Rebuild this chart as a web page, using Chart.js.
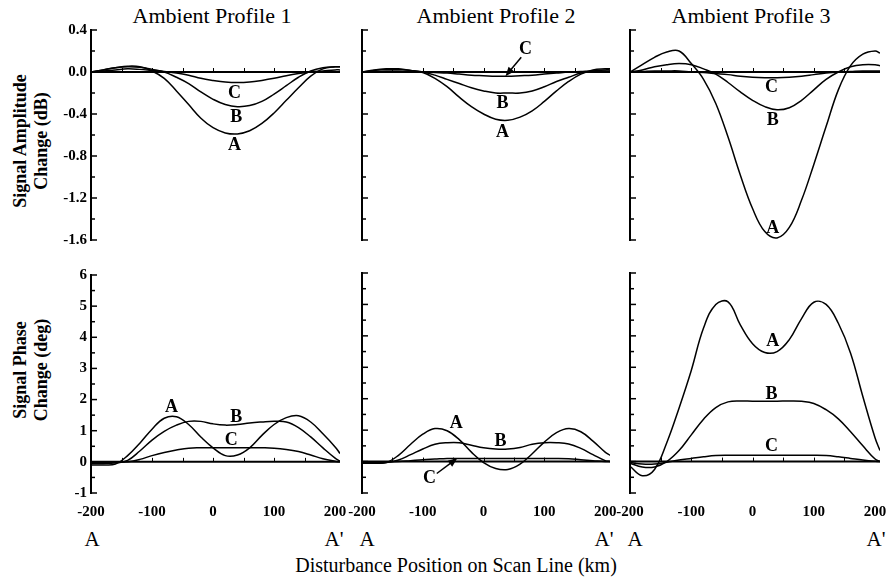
<!DOCTYPE html>
<html>
<head>
<meta charset="utf-8">
<script src="https://cdn.jsdelivr.net/npm/chart.js@4.4.1/dist/chart.umd.min.js"></script>
<style>
    html, body { margin: 0; padding: 0; background: #fff; overflow: hidden; }
    #figure {
        position: relative; width: 890px; height: 580px; overflow: hidden; background: #fff;
        font-family: "Liberation Serif", "Times New Roman", serif; color: #000;
    }
    #figure canvas { position: absolute; }
    .txt { position: absolute; white-space: nowrap; line-height: 1; transform: translate(-50%, -50%); }
    .panel-title { font-size: 22px; }
    .y-title {
        font-size: 18px; font-weight: bold; line-height: 21px; text-align: center;
        transform: translate(-50%, -50%) rotate(-90deg);
    }
    .end-label { font-size: 21px; }
    .x-title { font-size: 20px; }
</style>
</head>
<body>
<div id="figure">
    <div class="txt panel-title" style="left:212px; top:16px">Ambient Profile 1</div>
    <div class="txt panel-title" style="left:496px; top:16px">Ambient Profile 2</div>
    <div class="txt panel-title" style="left:751px; top:16px">Ambient Profile 3</div>

    <div class="txt y-title" style="left:31px; top:141px">Signal Amplitude<br>Change (dB)</div>
    <div class="txt y-title" style="left:31px; top:370px">Signal Phase<br>Change (deg)</div>

    <div class="txt end-label" style="left:92px; top:539px">A</div>
    <div class="txt end-label" style="left:334px; top:539px">A'</div>
    <div class="txt end-label" style="left:367px; top:539px">A</div>
    <div class="txt end-label" style="left:604px; top:539px">A'</div>
    <div class="txt end-label" style="left:635px; top:539px">A</div>
    <div class="txt end-label" style="left:876px; top:539px">A'</div>

    <div class="txt x-title" style="left:456px; top:565px">Disturbance Position on Scan Line (km)</div>
</div>

<script>
// disturbance position along the scan line (km), shared by every curve
const X_KM = [-200, -180, -160, -140, -120, -100, -80, -60, -40, -20, 0, 20, 40, 60, 80, 100, 120, 140, 160, 180, 200, 208];

// signal amplitude change (dB)
const AMP_1_A = [0, 0.02, 0.04, 0.055, 0.05, 0.01, -0.06, -0.18, -0.31, -0.44, -0.53, -0.58, -0.59, -0.56, -0.49, -0.39, -0.27, -0.15, -0.04, 0.03, 0.05, 0.05];
const AMP_1_B = [0, 0.02, 0.04, 0.05, 0.045, 0.025, 0, -0.05, -0.11, -0.19, -0.26, -0.31, -0.33, -0.32, -0.28, -0.21, -0.13, -0.05, 0.01, 0.04, 0.05, 0.05];
const AMP_1_C = [0, 0.01, 0.02, 0.03, 0.025, 0.015, 0.005, -0.01, -0.03, -0.06, -0.08, -0.095, -0.1, -0.095, -0.08, -0.06, -0.035, -0.015, 0, 0.01, 0.02, 0.02];

const AMP_2_A = [0, 0.02, 0.03, 0.03, 0.015, -0.005, -0.06, -0.14, -0.24, -0.33, -0.4, -0.45, -0.46, -0.43, -0.37, -0.28, -0.18, -0.09, -0.02, 0.02, 0.03, 0.03];
const AMP_2_B = [0, 0.015, 0.025, 0.025, 0.015, 0, -0.03, -0.07, -0.11, -0.15, -0.18, -0.2, -0.2, -0.2, -0.18, -0.14, -0.09, -0.05, -0.01, 0.01, 0.02, 0.02];
const AMP_2_C = [0, 0.005, 0.01, 0.01, 0.005, 0, -0.005, -0.01, -0.02, -0.03, -0.035, -0.04, -0.04, -0.035, -0.03, -0.02, -0.01, 0, 0.005, 0.01, 0.01, 0.01];

const AMP_3_A = [0, 0.07, 0.14, 0.19, 0.2, 0.08, -0.07, -0.3, -0.62, -0.98, -1.3, -1.52, -1.58, -1.48, -1.22, -0.88, -0.52, -0.17, 0.06, 0.17, 0.2, 0.18];
const AMP_3_B = [0, 0.02, 0.05, 0.07, 0.08, 0.07, 0.03, -0.02, -0.1, -0.19, -0.27, -0.33, -0.36, -0.34, -0.27, -0.17, -0.07, 0, 0.05, 0.07, 0.07, 0.06];
const AMP_3_C = [0, 0.005, 0.01, 0.01, 0.01, 0, -0.005, -0.015, -0.025, -0.04, -0.05, -0.055, -0.055, -0.05, -0.04, -0.025, -0.01, 0, 0.005, 0.01, 0.01, 0.01];

// signal phase change (deg)
const PHASE_1_A = [-0.1, -0.1, -0.07, 0.2, 0.6, 1.05, 1.4, 1.45, 1.2, 0.8, 0.45, 0.2, 0.22, 0.45, 0.85, 1.2, 1.42, 1.48, 1.28, 0.9, 0.48, 0.27];
const PHASE_1_B = [-0.05, -0.05, -0.03, 0.05, 0.35, 0.7, 0.98, 1.18, 1.3, 1.3, 1.22, 1.18, 1.2, 1.25, 1.28, 1.3, 1.28, 1.1, 0.8, 0.45, 0.12, 0.02];
const PHASE_1_C = [-0.03, -0.03, -0.02, 0, 0.08, 0.2, 0.3, 0.38, 0.44, 0.45, 0.45, 0.45, 0.45, 0.45, 0.45, 0.44, 0.4, 0.33, 0.22, 0.1, 0.02, 0];

const PHASE_2_A = [-0.05, -0.05, -0.03, 0.2, 0.55, 0.87, 1.05, 0.98, 0.7, 0.3, -0.03, -0.22, -0.25, -0.08, 0.25, 0.62, 0.92, 1.05, 0.95, 0.65, 0.3, 0.2];
const PHASE_2_B = [-0.05, -0.05, -0.03, 0.05, 0.22, 0.4, 0.55, 0.6, 0.6, 0.52, 0.44, 0.4, 0.4, 0.45, 0.55, 0.6, 0.6, 0.56, 0.42, 0.22, 0.03, 0];
const PHASE_2_C = [-0.03, -0.03, -0.02, 0, 0.03, 0.06, 0.08, 0.1, 0.1, 0.1, 0.1, 0.1, 0.1, 0.1, 0.1, 0.1, 0.1, 0.09, 0.06, 0.03, 0, 0];

const PHASE_3_A = [-0.15, -0.45, -0.25, 0.6, 1.7, 2.9, 4.25, 5.0, 5.08, 4.35, 3.75, 3.47, 3.5, 3.88, 4.55, 5.07, 5.0, 4.4, 3.45, 2.07, 0.75, 0.35];
const PHASE_3_B = [-0.05, -0.17, -0.17, 0, 0.35, 0.85, 1.35, 1.72, 1.9, 1.93, 1.92, 1.92, 1.92, 1.93, 1.92, 1.85, 1.65, 1.36, 0.95, 0.5, 0.08, 0];
const PHASE_3_C = [-0.03, -0.08, -0.08, -0.02, 0.05, 0.1, 0.15, 0.19, 0.2, 0.2, 0.2, 0.2, 0.2, 0.2, 0.2, 0.2, 0.19, 0.15, 0.1, 0.05, 0.01, 0];

// curve letters, in data units (arrow: tail -> tip)
const AMP_1_LABELS = [{ text: 'C', x: 35, y: -0.205 }, { text: 'B', x: 38, y: -0.43 }, { text: 'A', x: 35, y: -0.7 }];
const AMP_2_LABELS = [
    { text: 'C', x: 69, y: 0.22, arrow: [62, 0.14, 36, -0.04] },
    { text: 'B', x: 31, y: -0.3 },
    { text: 'A', x: 31, y: -0.57 }
];
const AMP_3_LABELS = [{ text: 'C', x: 31, y: -0.145 }, { text: 'B', x: 33, y: -0.46 }, { text: 'A', x: 33, y: -1.49 }];
const PHASE_1_LABELS = [{ text: 'A', x: -68, y: 1.76 }, { text: 'B', x: 38, y: 1.44 }, { text: 'C', x: 30, y: 0.7 }];
const PHASE_2_LABELS = [
    { text: 'A', x: -45, y: 1.23 },
    { text: 'B', x: 28, y: 0.64 },
    { text: 'C', x: -89, y: -0.52, arrow: [-77, -0.38, -43, 0.11] }
];
const PHASE_3_LABELS = [{ text: 'A', x: 33, y: 3.82 }, { text: 'B', x: 31, y: 2.13 }, { text: 'C', x: 31, y: 0.48 }];

const X_TICK_LABELS = [-200, -100, 0, 100, 200];
const ZERO_LINE_TICKS = [-150, -100, -50, 0, 50, 100, 150];

// layout
const COLUMN_LEFT = [91, 362, 630];
const COLUMN_RIGHT = [340, 610, 880];
const AXIS_GUTTER = 91;
const RIGHT_GUTTER = 30;
const ROWS = {
    amplitude: { top: 0, padTop: 30, plotHeight: 221, bottomSpace: 11, min: -1.6, max: 0.4, step: 0.2, labelEvery: 0.4, digits: 1 },
    phase: { top: 262, padTop: 11, plotHeight: 220, bottomSpace: 40, min: -1, max: 6, step: 0.5, labelEvery: 1, digits: 0 }
};

const PANELS = [
    { row: 'amplitude', col: 0, series: [AMP_1_A, AMP_1_B, AMP_1_C], labels: AMP_1_LABELS },
    { row: 'amplitude', col: 1, series: [AMP_2_A, AMP_2_B, AMP_2_C], labels: AMP_2_LABELS },
    { row: 'amplitude', col: 2, series: [AMP_3_A, AMP_3_B, AMP_3_C], labels: AMP_3_LABELS },
    { row: 'phase', col: 0, series: [PHASE_1_A, PHASE_1_B, PHASE_1_C], labels: PHASE_1_LABELS },
    { row: 'phase', col: 1, series: [PHASE_2_A, PHASE_2_B, PHASE_2_C], labels: PHASE_2_LABELS },
    { row: 'phase', col: 2, series: [PHASE_3_A, PHASE_3_B, PHASE_3_C], labels: PHASE_3_LABELS }
];

const SERIF = '"Liberation Serif", "Times New Roman", serif';
Chart.defaults.font.family = SERIF;
Chart.defaults.color = '#000';

function isMultiple(value, step) {
    const q = value / step;
    return Math.abs(q - Math.round(q)) < 1e-6;
}

function formatTick(value, digits) {
    if (Math.abs(value) < 1e-9) return (0).toFixed(digits);
    return value.toFixed(digits);
}

function drawArrow(ctx, x1, y1, x2, y2) {
    const angle = Math.atan2(y2 - y1, x2 - x1);
    const head = 10;
    ctx.lineWidth = 1.5;
    ctx.beginPath();
    ctx.moveTo(x1, y1);
    ctx.lineTo(x2 - Math.cos(angle) * head * 0.8, y2 - Math.sin(angle) * head * 0.8);
    ctx.stroke();
    ctx.beginPath();
    ctx.moveTo(x2, y2);
    ctx.lineTo(x2 - head * Math.cos(angle - 0.38), y2 - head * Math.sin(angle - 0.38));
    ctx.lineTo(x2 - head * Math.cos(angle + 0.38), y2 - head * Math.sin(angle + 0.38));
    ctx.closePath();
    ctx.fill();
}

// zero line, bracket-style left axis with inward ticks, curve letters
function makeFrame(panel, rowCfg) {
    return {
        id: 'panelFrame',
        afterDatasetsDraw(chart) {
            const { ctx, chartArea: area, scales: { x, y } } = chart;
            ctx.save();
            ctx.strokeStyle = '#000';
            ctx.fillStyle = '#000';

            const y0 = y.getPixelForValue(0);
            ctx.lineWidth = 2;
            ctx.beginPath();
            ctx.moveTo(area.left, y0);
            ctx.lineTo(area.right, y0);
            ctx.stroke();

            ctx.lineWidth = 1;
            ZERO_LINE_TICKS.forEach((km) => {
                const px = Math.round(x.getPixelForValue(km)) + 0.5;
                ctx.beginPath();
                ctx.moveTo(px, y0);
                ctx.lineTo(px, y0 - 4);
                ctx.stroke();
            });

            ctx.lineWidth = 2;
            ctx.beginPath();
            ctx.moveTo(area.left, area.top - 1);
            ctx.lineTo(area.left, area.bottom + 1);
            ctx.stroke();

            ctx.lineWidth = 1.5;
            y.ticks.forEach((tick) => {
                const py = y.getPixelForValue(tick.value);
                const len = isMultiple(tick.value, rowCfg.labelEvery) ? 6 : 4;
                ctx.beginPath();
                ctx.moveTo(area.left, py);
                ctx.lineTo(area.left + len, py);
                ctx.stroke();
            });

            ctx.font = `bold 18px ${SERIF}`;
            ctx.textAlign = 'center';
            ctx.textBaseline = 'middle';
            panel.labels.forEach((label) => {
                if (label.arrow) {
                    const [ax, ay, bx, by] = label.arrow;
                    drawArrow(ctx, x.getPixelForValue(ax), y.getPixelForValue(ay),
                        x.getPixelForValue(bx), y.getPixelForValue(by));
                }
                ctx.fillText(label.text, x.getPixelForValue(label.x), y.getPixelForValue(label.y));
            });
            ctx.restore();
        }
    };
}

function renderPanel(panel) {
    const rowCfg = ROWS[panel.row];
    const plotWidth = COLUMN_RIGHT[panel.col] - COLUMN_LEFT[panel.col];
    const canvas = document.createElement('canvas');
    canvas.width = AXIS_GUTTER + plotWidth + RIGHT_GUTTER;
    canvas.height = rowCfg.padTop + rowCfg.plotHeight + rowCfg.bottomSpace;
    canvas.style.left = `${COLUMN_LEFT[panel.col] - AXIS_GUTTER}px`;
    canvas.style.top = `${rowCfg.top}px`;
    document.getElementById('figure').appendChild(canvas);

    const showXLabels = panel.row === 'phase';

    return new Chart(canvas, {
        type: 'line',
        data: {
            datasets: panel.series.map((values, i) => ({
                label: 'ABC'[i],
                data: X_KM.map((km, j) => ({ x: km, y: values[j] })),
                borderColor: '#000',
                borderWidth: 1.5,
                pointRadius: 0,
                fill: false,
                tension: 0.4
            }))
        },
        options: {
            responsive: false,
            animation: false,
            events: [],
            layout: {
                padding: { top: rowCfg.padTop, right: RIGHT_GUTTER, bottom: showXLabels ? 0 : rowCfg.bottomSpace, left: 0 }
            },
            plugins: {
                legend: { display: false },
                tooltip: { enabled: false }
            },
            scales: {
                x: {
                    type: 'linear',
                    min: -200,
                    max: 208,
                    display: showXLabels,
                    afterBuildTicks: (scale) => { scale.ticks = X_TICK_LABELS.map((value) => ({ value })); },
                    afterFit: (scale) => { scale.height = rowCfg.bottomSpace; },
                    border: { display: false },
                    grid: { display: false, drawTicks: false },
                    ticks: {
                        autoSkip: false,
                        maxRotation: 0,
                        padding: 10,
                        color: '#000',
                        font: { size: 15, weight: 'bold' },
                        callback: (value) => String(value)
                    }
                },
                y: {
                    min: rowCfg.min,
                    max: rowCfg.max,
                    afterFit: (scale) => { scale.width = AXIS_GUTTER; },
                    border: { display: false },
                    grid: { display: false, drawTicks: false },
                    ticks: {
                        display: panel.col === 0,
                        stepSize: rowCfg.step,
                        autoSkip: false,
                        padding: 4,
                        color: '#000',
                        font: { size: 15, weight: 'bold' },
                        callback: (value) => (isMultiple(value, rowCfg.labelEvery) ? formatTick(value, rowCfg.digits) : '')
                    }
                }
            }
        },
        plugins: [makeFrame(panel, rowCfg)]
    });
}

PANELS.forEach(renderPanel);
</script>
</body>
</html>
